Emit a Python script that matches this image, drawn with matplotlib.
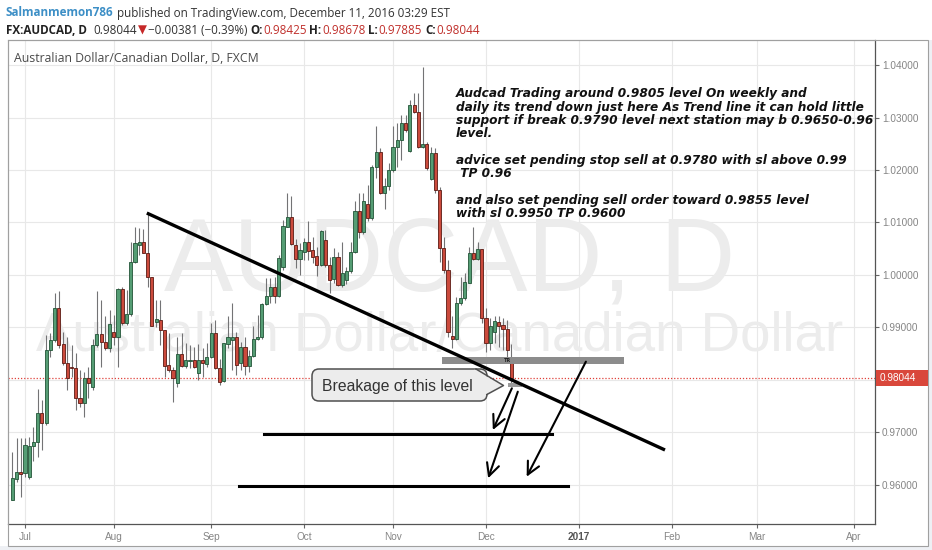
import matplotlib
matplotlib.use('Agg')
import matplotlib.pyplot as plt
import matplotlib.transforms as mtransforms
from matplotlib.patches import Rectangle, FancyBboxPatch, Polygon
from matplotlib.ticker import FuncFormatter
import numpy as np
import pandas as pd

# ---------------- data (FX:AUDCAD daily, FXCM) ----------------
start_date = '2016-06-28'
opens = [0.9571, 0.9611, 0.9624, 0.9622, 0.9615, 0.9674, 0.9681, 0.9738, 0.9718, 0.9858,
         0.9876, 0.9938, 0.9868, 0.9833, 0.9825, 0.9822, 0.9765, 0.9756, 0.9803, 0.9787,
         0.9867, 0.9887, 0.9873, 0.9860, 0.9891, 0.9881, 0.9973, 0.9908, 0.9925, 1.0025,
         1.0057, 1.0062, 1.0042, 0.9997, 0.9910, 0.9914, 0.9895, 0.9829, 0.9819, 0.9795,
         0.9850, 0.9827, 0.9836, 0.9838, 0.9813, 0.9839, 0.9830, 0.9844, 0.9890, 0.9822,
         0.9799, 0.9869, 0.9876, 0.9881, 0.9833, 0.9862, 0.9827, 0.9846, 0.9878, 0.9881,
         0.9945, 0.9960, 0.9978, 0.9960, 1.0016, 1.0092, 1.0111, 1.0057, 1.0030, 1.0044,
         1.0062, 1.0048, 1.0036, 1.0019, 1.0067, 1.0019, 0.9992, 1.0035, 0.9981, 0.9990,
         1.0008, 1.0043, 1.0122, 1.0082, 1.0135, 1.0108, 1.0205, 1.0235, 1.0156, 1.0170,
         1.0200, 1.0243, 1.0257, 1.0290, 1.0237, 1.0324, 1.0311, 1.0243, 1.0250, 1.0182,
         1.0232, 1.0162, 1.0051, 1.0010, 0.9884, 0.9879, 0.9946, 0.9956, 0.9985, 1.0042,
         1.0030, 1.0049, 0.9918, 0.9870, 0.9892, 0.9911, 0.9905, 0.9898, 0.98425]
highs = [0.9663, 0.9689, 0.9689, 0.9689, 0.9692, 0.9711, 0.9783, 0.9762, 0.9886, 0.9889,
         0.9965, 0.9970, 0.9892, 0.9882, 0.9867, 0.9851, 0.9819, 0.9816, 0.9825, 0.9879,
         0.9970, 0.9952, 0.9921, 0.9933, 0.9924, 0.9975, 0.9977, 0.9971, 1.0063, 1.0092,
         1.0089, 1.0087, 1.0118, 0.9997, 0.9952, 0.9952, 0.9895, 0.9889, 0.9825, 0.9882,
         0.9890, 0.9871, 0.9867, 0.9863, 0.9869, 0.9860, 0.9871, 0.9909, 0.9914, 0.9840,
         0.9870, 0.9922, 0.9947, 0.9892, 0.9873, 0.9882, 0.9857, 0.9902, 0.9924, 0.9946,
         0.9994, 0.9994, 0.9997, 1.0038, 1.0105, 1.0157, 1.0150, 1.0068, 1.0060, 1.0070,
         1.0102, 1.0073, 1.0054, 1.0086, 1.0086, 1.0035, 1.0051, 1.0044, 1.0063, 1.0016,
         1.0063, 1.0140, 1.0156, 1.0156, 1.0171, 1.0210, 1.0284, 1.0241, 1.0184, 1.0213,
         1.0284, 1.0290, 1.0305, 1.0305, 1.0333, 1.0346, 1.0346, 1.0397, 1.0254, 1.0243,
         1.0241, 1.0168, 1.0073, 1.0029, 0.9921, 0.9959, 0.9997, 1.0003, 1.0054, 1.0092,
         1.0063, 1.0049, 0.9937, 0.9918, 0.9921, 0.9921, 0.9918, 0.9914, 0.98678]
lows = [0.9571, 0.9606, 0.9578, 0.9616, 0.9611, 0.9646, 0.9653, 0.9667, 0.9714, 0.9844,
        0.9873, 0.9860, 0.9829, 0.9780, 0.9806, 0.9742, 0.9749, 0.9729, 0.9765, 0.9781,
        0.9863, 0.9825, 0.9857, 0.9854, 0.9867, 0.9825, 0.9905, 0.9905, 0.9922, 1.0022,
        1.0038, 1.0041, 0.9977, 0.9902, 0.9900, 0.9867, 0.9806, 0.9816, 0.9759, 0.9787,
        0.9825, 0.9822, 0.9822, 0.9822, 0.9800, 0.9806, 0.9825, 0.9841, 0.9820, 0.9790,
        0.9797, 0.9860, 0.9819, 0.9810, 0.9819, 0.9810, 0.9816, 0.9844, 0.9876, 0.9879,
        0.9943, 0.9946, 0.9947, 0.9959, 1.0010, 1.0091, 1.0058, 1.0013, 1.0000, 1.0029,
        1.0029, 1.0022, 0.9998, 1.0017, 1.0016, 0.9965, 0.9984, 0.9979, 0.9978, 0.9983,
        1.0003, 1.0041, 1.0070, 1.0079, 1.0102, 1.0105, 1.0184, 1.0154, 1.0125, 1.0161,
        1.0197, 1.0206, 1.0219, 1.0273, 1.0235, 1.0308, 1.0241, 1.0241, 1.0200, 1.0180,
        1.0156, 1.0025, 1.0003, 0.9882, 0.9860, 0.9876, 0.9943, 0.9952, 0.9984, 1.0029,
        1.0029, 0.9908, 0.9854, 0.9857, 0.9870, 0.9863, 0.9857, 0.9838, 0.97885]
closes = [0.9613, 0.9624, 0.9621, 0.9676, 0.9674, 0.9681, 0.9738, 0.9719, 0.9858, 0.9876,
          0.9938, 0.9867, 0.9833, 0.9803, 0.9822, 0.9765, 0.9756, 0.9803, 0.9794, 0.9867,
          0.9887, 0.9873, 0.9860, 0.9906, 0.9882, 0.9973, 0.9908, 0.9925, 1.0025, 1.0060,
          1.0063, 1.0042, 0.9997, 0.9903, 0.9916, 0.9895, 0.9827, 0.9819, 0.9803, 0.9850,
          0.9827, 0.9838, 0.9838, 0.9825, 0.9839, 0.9832, 0.9844, 0.9890, 0.9822, 0.9797,
          0.9870, 0.9881, 0.9881, 0.9829, 0.9862, 0.9827, 0.9846, 0.9878, 0.9881, 0.9945,
          0.9960, 0.9978, 0.9960, 1.0032, 1.0093, 1.0111, 1.0059, 1.0030, 1.0048, 1.0062,
          1.0046, 1.0035, 1.0019, 1.0084, 1.0019, 0.9990, 1.0035, 0.9981, 1.0003, 1.0008,
          1.0043, 1.0122, 1.0082, 1.0140, 1.0108, 1.0205, 1.0235, 1.0156, 1.0170, 1.0200,
          1.0243, 1.0257, 1.0290, 1.0276, 1.0324, 1.0311, 1.0243, 1.0250, 1.0203, 1.0232,
          1.0162, 1.0051, 1.0010, 0.9892, 0.9879, 0.9946, 0.9956, 0.9987, 1.0041, 1.0030,
          1.0049, 0.9918, 0.9870, 0.9902, 0.9913, 0.9903, 0.9897, 0.9857, 0.98044]

price_ticks = [0.96, 0.97, 0.98, 0.99, 1.00, 1.01, 1.02, 1.03, 1.04]
month_starts = ['2016-07-01', '2016-08-01', '2016-09-01', '2016-10-01', '2016-11-01',
                '2016-12-01', '2017-01-01', '2017-02-01', '2017-03-01', '2017-04-01']
month_labels = ['Jul', 'Aug', 'Sep', 'Oct', 'Nov', 'Dec', '2017', 'Feb', 'Mar', 'Apr']

# user drawings (bar index, price)
trend_pts = [(31.8, 1.0118), (154.3, 0.96667)]
hline1 = (59.5, 127.5, 0.9698)
hline2 = (53.6, 131.4, 0.9599)
tr_zone = (101.7, 144.5, 0.98299, 0.98444)
small_zone = (117.2, 120.5, 0.97872, 0.97949)
arrows = [((118.1, 0.97842), (113.6, 0.97048)),
          ((119.5, 0.97777), (112.5, 0.96128)),
          ((135.6, 0.98349), (121.6, 0.96158))]

note_lines = ["Audcad Trading around 0.9805 level On weekly and",
              "daily its trend down just here As Trend line it can hold little",
              "support if break 0.9790 level next station may b 0.9650-0.96",
              "level.",
              "",
              "advice set pending stop sell at 0.9780 with sl above 0.99",
              " TP 0.96",
              "",
              "and also set pending sell order toward 0.9855 level",
              "with sl 0.9950 TP 0.9600"]

# ---------------- figure ----------------
W, H = 932, 550
fig = plt.figure(figsize=(W / 100, H / 100), dpi=100)
fig.patch.set_facecolor('white')
R = fig.canvas.get_renderer()


def fx(px):
    return px / W


def fy(py):
    return 1 - py / H


last = closes[-1]

ax = fig.add_axes([fx(8), fy(524), (875 - 8) / W, (524 - 40) / H])
ax.set_facecolor('white')
ax.set_xlim(-1.02, 203.95)
ax.set_ylim(0.952571, 1.044762)

dates = pd.bdate_range(start_date, periods=240)
xs = np.arange(len(opens))
tick_pos = [int(dates.searchsorted(pd.Timestamp(m))) for m in month_starts]

ax.set_xticks(tick_pos)
ax.set_xticklabels(month_labels)
ax.set_yticks(price_ticks)
# the tick label hidden behind the last-price label is left blank
ax.yaxis.set_major_formatter(FuncFormatter(
    lambda v, p: '' if abs(v - last) < 0.002 else f'{v:.5f}'))
ax.yaxis.tick_right()
ax.tick_params(axis='y', length=3, width=0.8, color='#666666', labelcolor='#858585',
               labelsize=7.2, pad=2)
ax.tick_params(axis='x', length=3, width=0.8, color='#666666', labelcolor='#858585',
               labelsize=7.2, pad=2.5)
for lbl in ax.get_xticklabels() + ax.get_yticklabels():
    lbl.set_fontfamily('Liberation Sans')
for lbl in ax.get_xticklabels():
    if lbl.get_text() == '2017':
        lbl.set_fontweight('bold')
        lbl.set_color('#555555')
ax.grid(True, color='#e8e8e8', lw=0.8)
ax.set_axisbelow(True)
for s in ['left', 'top']:
    ax.spines[s].set_color('#a0a0a0')
    ax.spines[s].set_linewidth(0.8)
for s in ['right', 'bottom']:
    ax.spines[s].set_color('#555555')
    ax.spines[s].set_linewidth(0.9)

# watermark
wm1 = ax.text(fx(450), fy(290), 'AUDCAD, D', transform=fig.transFigure, ha='center',
              va='baseline', color='#ececec', fontsize=70, family='Liberation Sans', zorder=0.6)
wm2 = ax.text(fx(440), fy(351), 'Australian Dollar/Canadian Dollar', transform=fig.transFigure,
              ha='center', va='baseline', color='#ececec', fontsize=30,
              family='Liberation Sans', zorder=0.6)


def fit(t, target):
    w = t.get_window_extent(R).width
    t.set_fontsize(t.get_fontsize() * target / w)


fit(wm1, 572)
fit(wm2, 806)

# candles
o = np.array(opens); h = np.array(highs); l = np.array(lows); c = np.array(closes)
up = c >= o
ax.vlines(xs, l, h, color='#737375', lw=0.8, zorder=2)
body_col = np.where(up, '#559d74', '#cb4a3c')
edge_col = np.where(up, '#225437', '#5b1a13')
ax.bar(xs, np.maximum(np.abs(c - o), 0.00003), bottom=np.minimum(o, c), width=0.74,
       color=body_col, edgecolor=edge_col, linewidth=0.6, zorder=3)

# last price line
ax.axhline(last, color='#e0403a', ls=(0, (1, 1.5)), lw=0.9, zorder=2.5)

# drawings
ax.plot([p[0] for p in trend_pts], [p[1] for p in trend_pts], color='black', lw=2.4,
        solid_capstyle='butt', zorder=5)
for (x0, x1, y) in [hline1, hline2]:
    ax.plot([x0, x1], [y, y], color='black', lw=2.2, zorder=5)
ax.add_patch(Rectangle((tr_zone[0], tr_zone[2]), tr_zone[1] - tr_zone[0],
                       tr_zone[3] - tr_zone[2], fc='#8c8c8c', ec='none', zorder=4))
ax.text(117.0, (tr_zone[2] + tr_zone[3]) / 2, 'TR', fontsize=3.5, fontweight='bold',
        color='#222222', ha='center', va='center', zorder=4.5)
ax.add_patch(Rectangle((small_zone[0], small_zone[2]), small_zone[1] - small_zone[0],
                       small_zone[3] - small_zone[2], fc='#9a9a9a', ec='none', zorder=4))
for (a, b) in arrows:
    ax.annotate('', xy=b, xytext=a,
                arrowprops=dict(arrowstyle='->,head_length=0.9,head_width=0.45',
                                color='black', lw=1.5, shrinkA=0, shrinkB=0), zorder=6)

# ---------------- overlay (pixel space) ----------------
ov = fig.add_axes([0, 0, 1, 1], zorder=5)
ov.set_xlim(0, W)
ov.set_ylim(H, 0)
ov.axis('off')
ov.patch.set_alpha(0)

# outer frame + grey strips
ov.add_patch(Rectangle((0, 546), W, 4, fc='#eef0f4', ec='none'))
ov.add_patch(Rectangle((928, 40), 4, 510, fc='#eef0f4', ec='none'))
ov.add_patch(Rectangle((7.5, 40), 920.5, 506, fill=False, ec='#a0a0a0', lw=0.8))

# price label
yp = H - ax.transData.transform((0, last))[1]
ov.add_patch(Rectangle((876, yp - 8), 52, 16, fc='#d9473b', ec='none'))
ov.text(880, yp + 0.5, f'{last:.5f}', color='white', fontsize=7.2, family='Liberation Sans',
        va='center', ha='left')

# callout
ov.add_patch(FancyBboxPatch((312, 369), 175, 32, boxstyle='round,pad=0,rounding_size=7',
                            fc='#ececec', ec='#505050', lw=1.1))
ov.add_patch(Polygon([(474, 369.6), (503.5, 385.5), (487.2, 394), (474, 394)],
                     closed=True, fc='#ececec', ec='none'))
ov.plot([476, 503.5, 486.9], [369, 385.5, 394.5], color='#505050', lw=1.1)
ct = ov.text(321.7, 391, 'Breakage of this level', color='#333333', fontsize=11,
             family='Liberation Sans', ha='left', va='baseline')
fit(ct, 150)

# chart title inside pane
tt = ov.text(14, 61.5, 'Australian Dollar/Canadian Dollar, D, FXCM', color='#4a4a4a',
             fontsize=8.5, family='Open Sans', ha='left', va='baseline')
fit(tt, 244)

# note text
ys = [93.3, 106.7, 120, 132.7, 146, 160, 173.3, 186.7, 200, 213.3]
note_objs = []
for s, y in zip(note_lines, ys):
    if s:
        t = ov.text(456, y + 4, s, fontsize=8, family='DejaVu Sans', fontweight='bold',
                    style='italic', color='#111111', ha='left', va='baseline')
        note_objs.append(t)
w2 = note_objs[1].get_window_extent(R).width
fs = 8 * 408 / w2
for t in note_objs:
    t.set_fontsize(fs)

# ---------------- header ----------------
hfam = ['Open Sans', 'DejaVu Sans']


def width_of(s, **kw):
    t = fig.text(0, 0, s, **kw)
    w = t.get_window_extent(R).width
    t.remove()
    return w


def seg_line(x, y, segs, size):
    for s, color, weight, gap in segs:
        t = fig.text(fx(x), fy(y), s, color=color, fontweight=weight, fontsize=size,
                     family=hfam, va='baseline', ha='left')
        x += t.get_window_extent(R).width + gap


line1 = 'Salmanmemon786 published on TradingView.com, December 11, 2016 03:29 EST'
hs = 9.0 * 442 / width_of(line1, fontsize=9.0, family=hfam)
sp = width_of('a a', fontsize=hs, family=hfam) - width_of('aa', fontsize=hs, family=hfam)

seg_line(6, 16.5, [('Salmanmemon786', '#3d8fc6', 'bold', sp),
                   ('published on TradingView.com, December 11, 2016 03:29 EST', '#333333',
                    'normal', 0)], hs)

chg = closes[-1] - opens[-1]
pct = chg / opens[-1] * 100
red = '#c0302c'
dark = '#222222'
seg_line(6, 33.5, [('FX:AUDCAD, D', dark, 'bold', sp * 2),
                   (f'{closes[-1]:.5f}', '#333333', 'normal', 1),
                   ('\u25BC', '#c62828', 'normal', 1),
                   (f'{chg:+.5f}'.replace('-', '\u2212') + ' (' +
                    f'{pct:+.2f}'.replace('-', '\u2212') + '%)', '#333333', 'normal', sp),
                   ('O:', dark, 'bold', 0.5), (f'{opens[-1]:.5f}', red, 'normal', sp),
                   ('H:', dark, 'bold', 0.5), (f'{highs[-1]:.5f}', red, 'normal', sp),
                   ('L:', dark, 'bold', 0.5), (f'{lows[-1]:.5f}', red, 'normal', sp),
                   ('C:', dark, 'bold', 0.5), (f'{closes[-1]:.5f}', red, 'normal', 0)], hs)

fig.savefig('out.png', dpi=100, facecolor='white')
